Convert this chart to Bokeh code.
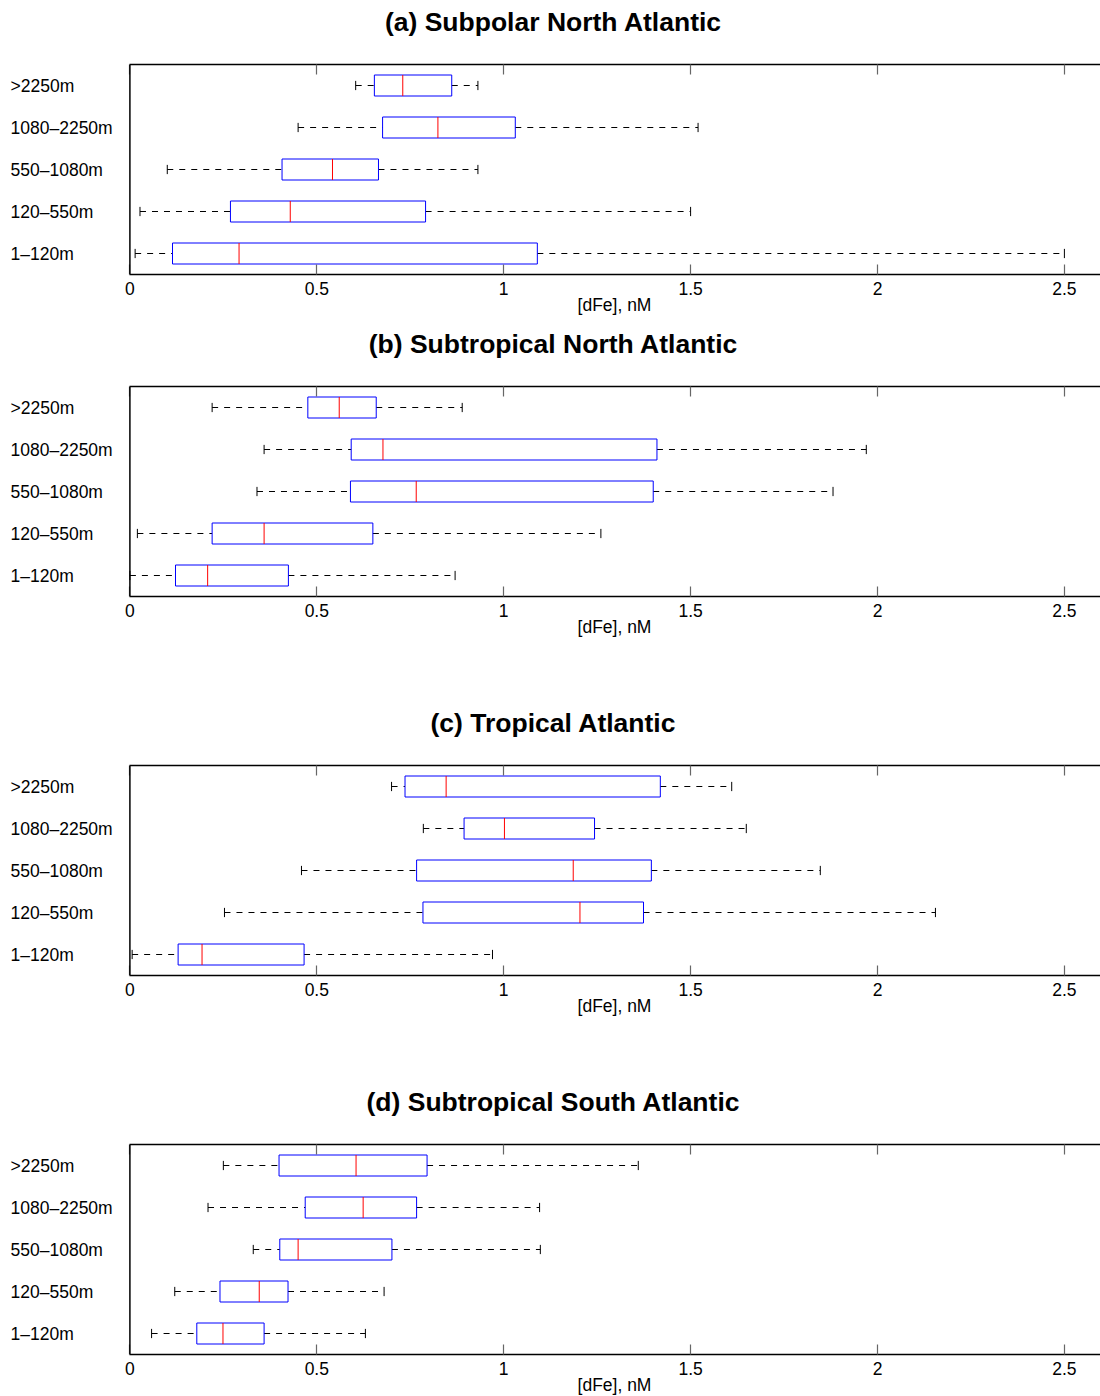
from bokeh.plotting import figure
from bokeh.models import (ColumnDataSource, FactorRange, Range1d, LinearAxis,
                          FixedTicker, NumeralTickFormatter, Span)
from bokeh.core.properties import value
from bokeh.transform import dodge
from bokeh.layouts import column, row
from bokeh.embed import file_html
from bokeh.resources import INLINE

# Depth classes, listed bottom to top
depth_bins = ["1–120m", "120–550m", "550–1080m", "1080–2250m", ">2250m"]
x_ticks = [0, 0.5, 1, 1.5, 2, 2.5]

# (a) Subpolar North Atlantic: whisker low, Q1, median, Q3, whisker high  [nM]
spna_lo = [0.014, 0.027, 0.100, 0.450, 0.604]
spna_q1 = [0.114, 0.269, 0.407, 0.676, 0.654]
spna_med = [0.292, 0.429, 0.542, 0.824, 0.730]
spna_q3 = [1.090, 0.791, 0.665, 1.031, 0.861]
spna_hi = [2.500, 1.500, 0.931, 1.520, 0.931]

# (b) Subtropical North Atlantic
stna_lo = [0.000, 0.020, 0.340, 0.359, 0.220]
stna_q1 = [0.122, 0.220, 0.590, 0.592, 0.476]
stna_med = [0.208, 0.359, 0.766, 0.677, 0.560]
stna_q3 = [0.424, 0.650, 1.400, 1.410, 0.659]
stna_hi = [0.870, 1.260, 1.881, 1.970, 0.889]

# (c) Tropical Atlantic
ta_lo = [0.006, 0.253, 0.459, 0.785, 0.700]
ta_q1 = [0.129, 0.784, 0.767, 0.894, 0.736]
ta_med = [0.193, 1.204, 1.186, 1.002, 0.846]
ta_q3 = [0.466, 1.374, 1.395, 1.243, 1.419]
ta_hi = [0.970, 2.155, 1.847, 1.649, 1.610]

# (d) Subtropical South Atlantic
stsa_lo = [0.058, 0.120, 0.330, 0.209, 0.250]
stsa_q1 = [0.179, 0.241, 0.401, 0.469, 0.399]
stsa_med = [0.249, 0.346, 0.450, 0.624, 0.605]
stsa_q3 = [0.359, 0.423, 0.701, 0.767, 0.795]
stsa_hi = [0.630, 0.680, 1.098, 1.096, 1.360]

panel_titles = ["(a) Subpolar North Atlantic", "(b) Subtropical North Atlantic",
                "(c) Tropical Atlantic", "(d) Subtropical South Atlantic"]

FONT = "Liberation Sans"
PAGE_W = 1100
HEADER_H = 60           # strip holding each panel title
LABEL_W = 116           # column holding the depth-class names
MAIN_PAD_L = 12         # main canvas margin left of the frame
FRAME_W = PAGE_W - LABEL_W - MAIN_PAD_L
FRAME_H = 210
TOP_PAD = 4
PX_PER_NM = 373.8
X_START = -1.4 / PX_PER_NM
X_END = (FRAME_W - 1.4) / PX_PER_NM
CAP = 0.11
TICK_GREY = "#666666"


def blank(fig):
    fig.outline_line_color = None
    fig.axis.visible = False
    fig.grid.visible = False


def make_header(title):
    h = figure(x_range=Range1d(0, PAGE_W), y_range=Range1d(0, HEADER_H),
               frame_width=PAGE_W, frame_height=HEADER_H,
               min_border_left=0, min_border_right=0, min_border_top=0, min_border_bottom=0,
               output_backend="svg", toolbar_location=None,
               background_fill_color="white", border_fill_color="white")
    blank(h)
    h.text(x=[553], y=[HEADER_H - 21.5], text=[title],
           text_font=value(FONT), text_font_size="26.5px", text_font_style="bold",
           text_color="black", text_align="center", text_baseline="middle")
    return h


def make_panel(title, lo, q1, med, q3, hi, bottom_border):
    src = ColumnDataSource(dict(depth=depth_bins, lo=lo, q1=q1, med=med, q3=q3, hi=hi))
    y_range = FactorRange(factors=depth_bins, range_padding=0)

    p = figure(y_range=y_range, x_range=Range1d(X_START, X_END),
               frame_width=FRAME_W, frame_height=FRAME_H,
               min_border_left=MAIN_PAD_L, min_border_right=0,
               min_border_top=TOP_PAD, min_border_bottom=bottom_border,
               output_backend="svg", toolbar_location=None,
               background_fill_color="white", border_fill_color="white")
    p.outline_line_color = None
    p.xgrid.visible = False
    p.ygrid.visible = False
    p.yaxis.visible = False

    # left border at 0 nM
    p.add_layout(Span(location=0, dimension="height", line_color="black", line_width=1.5))

    # whiskers
    whisk = dict(source=src, line_color="black", line_width=1, line_dash="6 6")
    p.segment(x0="lo", y0="depth", x1="q1", y1="depth", **whisk)
    p.segment(x0="q3", y0="depth", x1="hi", y1="depth", **whisk)
    # whisker caps
    cap = dict(source=src, line_color="black", line_width=1)
    p.segment(x0="lo", y0=dodge("depth", -CAP, range=y_range),
              x1="lo", y1=dodge("depth", CAP, range=y_range), **cap)
    p.segment(x0="hi", y0=dodge("depth", -CAP, range=y_range),
              x1="hi", y1=dodge("depth", CAP, range=y_range), **cap)
    # boxes
    p.hbar(y="depth", left="q1", right="q3", height=0.5, source=src,
           fill_color=None, line_color="#0000ff", line_width=1)
    # medians
    p.segment(x0="med", y0=dodge("depth", -0.25, range=y_range),
              x1="med", y1=dodge("depth", 0.25, range=y_range),
              source=src, line_color="#ff0000", line_width=1)

    # bottom axis
    xa = p.xaxis[0]
    xa.bounds = (0, X_END)
    xa.ticker = FixedTicker(ticks=x_ticks)
    xa.formatter = NumeralTickFormatter(format="0.[0]")
    xa.major_tick_in = 10
    xa.major_tick_out = 0
    xa.minor_tick_line_color = None
    xa.major_tick_line_color = TICK_GREY
    xa.major_tick_line_width = 1.2
    xa.axis_line_color = "black"
    xa.axis_line_width = 1.5
    xa.major_label_standoff = 7
    xa.major_label_text_font = FONT
    xa.major_label_text_font_size = "17.5px"
    xa.major_label_text_color = "black"
    xa.axis_label = "[dFe], nM"
    xa.axis_label_text_font = FONT
    xa.axis_label_text_font_size = "17.5px"
    xa.axis_label_text_font_style = "normal"
    xa.axis_label_text_color = "black"
    xa.axis_label_standoff = -3

    # top axis: line and inward ticks only
    top = LinearAxis(bounds=(0, X_END), ticker=FixedTicker(ticks=x_ticks),
                     major_tick_in=10, major_tick_out=0,
                     minor_tick_line_color=None, major_tick_line_color=TICK_GREY,
                     major_tick_line_width=1.2, axis_line_color="black", axis_line_width=1.5,
                     major_label_text_color=None)
    p.add_layout(top, "above")

    # depth-class names, left-aligned, sharing the categorical y range
    names = figure(y_range=y_range, x_range=Range1d(0, LABEL_W),
                   frame_width=LABEL_W, frame_height=FRAME_H,
                   min_border_left=0, min_border_right=0,
                   min_border_top=TOP_PAD, min_border_bottom=bottom_border,
                   output_backend="svg", toolbar_location=None,
                   background_fill_color="white", border_fill_color="white")
    blank(names)
    names.text(x=10, y="depth", text="depth", source=src,
               text_font=value(FONT), text_font_size="17.5px", text_color="black",
               text_align="left", text_baseline="middle")

    return column(make_header(title), row(names, p, spacing=0), spacing=0)


panels = [
    make_panel(panel_titles[0], spna_lo, spna_q1, spna_med, spna_q3, spna_hi, 48),
    make_panel(panel_titles[1], stna_lo, stna_q1, stna_med, stna_q3, stna_hi, 105),
    make_panel(panel_titles[2], ta_lo, ta_q1, ta_med, ta_q3, ta_hi, 105),
    make_panel(panel_titles[3], stsa_lo, stsa_q1, stsa_med, stsa_q3, stsa_hi, 44),
]

layout = column(*panels, spacing=0)
open("out.html", "w").write(file_html(layout, INLINE))
